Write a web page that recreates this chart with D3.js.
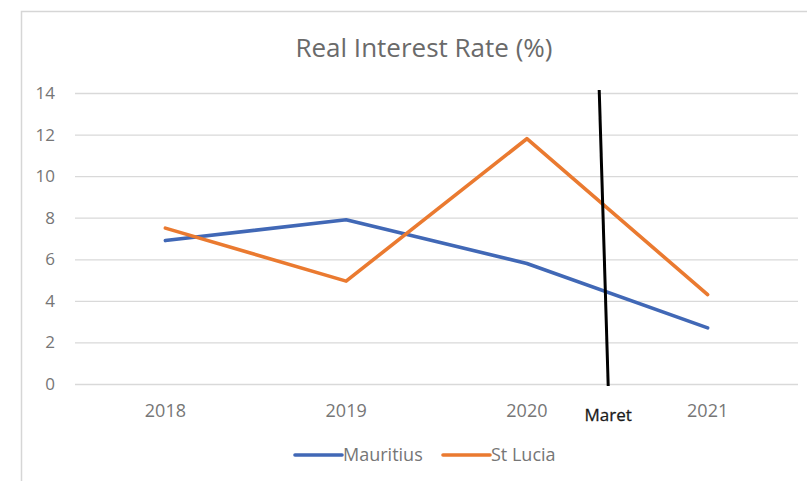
<!DOCTYPE html>
<html>
<head>
<meta charset="utf-8">
<script src="https://cdn.jsdelivr.net/npm/d3@7"></script>
<style>
  html, body { margin: 0; padding: 0; background: #fff; }
  svg { display: block; }
  text { font-family: "Open Sans", "Liberation Sans", sans-serif; }
</style>
</head>
<body>
<svg id="chart" width="807" height="481"></svg>
<script>
// Years on the category axis
const years = ["2018", "2019", "2020", "2021"];
// Real interest rate (%) per country
const mauritius = [6.9, 7.9, 5.8, 2.7];
const stLucia = [7.5, 4.95, 11.8, 4.3];
// Value axis ticks
const yTicks = [0, 2, 4, 6, 8, 10, 12, 14];
// Marker between 2020 and 2021 (fraction of the step past 2020)
const markerLabel = "Maret";
const markerAfter = "2020";
const markerOffset = 0.45;

const series = [
  { name: "Mauritius", values: mauritius, color: "#4168b6" },
  { name: "St Lucia", values: stLucia, color: "#ea7a30" }
];

const svg = d3.select("#chart");
const W = 807, H = 481;
const plot = { left: 75, right: 798, top: 93, bottom: 384 };
const textGray = "#767676";

// Chart frame
svg.append("path")
  .attr("d", `M21.5,${H} V11.5 H${W}`)
  .attr("fill", "none")
  .attr("stroke", "#d6d6d6")
  .attr("stroke-width", 1.5);

// Title
svg.append("text")
  .attr("x", 424)
  .attr("y", 57)
  .attr("text-anchor", "middle")
  .attr("font-size", 26)
  .attr("fill", "#6a6a6a")
  .text("Real Interest Rate (%)");

const x = d3.scaleBand().domain(years).range([plot.left, plot.right]);
const y = d3.scaleLinear().domain([0, 14]).range([plot.bottom, plot.top]);
const cx = d => x(d) + x.bandwidth() / 2;

// Horizontal gridlines + value labels
const yAxis = d3.axisLeft(y)
  .tickValues(yTicks)
  .tickSize(-(plot.right - plot.left))
  .tickPadding(20);
const gy = svg.append("g")
  .attr("transform", `translate(${plot.left},0)`)
  .call(yAxis);
gy.select(".domain").remove();
gy.selectAll(".tick line").attr("stroke", "#d9d9d9").attr("stroke-width", 1.3);
gy.selectAll(".tick text")
  .attr("font-size", 17)
  .attr("fill", textGray)
  .attr("font-family", "Open Sans, sans-serif");

// Category labels
const xAxis = d3.axisBottom(x).tickSize(0).tickPadding(20);
const gx = svg.append("g")
  .attr("transform", `translate(0,${plot.bottom})`)
  .call(xAxis);
gx.select(".domain").remove();
gx.selectAll(".tick text")
  .attr("font-size", 18)
  .attr("fill", textGray)
  .attr("font-family", "Open Sans, sans-serif");

// Series lines
const line = d3.line()
  .x((d, i) => cx(years[i]))
  .y(d => y(d));
series.forEach(s => {
  svg.append("path")
    .datum(s.values)
    .attr("d", line)
    .attr("fill", "none")
    .attr("stroke", s.color)
    .attr("stroke-width", 3.6)
    .attr("stroke-linejoin", "round")
    .attr("stroke-linecap", "round");
});

// Hand-placed marker line, slightly tilted, with its label
const mx = cx(markerAfter) + markerOffset * x.step();
svg.append("line")
  .attr("x1", mx - 9)
  .attr("y1", y(14) - 3)
  .attr("x2", mx)
  .attr("y2", y(0) + 2)
  .attr("stroke", "#000")
  .attr("stroke-width", 3);
svg.append("text")
  .attr("x", mx)
  .attr("y", 421)
  .attr("text-anchor", "middle")
  .attr("font-family", "Liberation Sans, Arial, sans-serif")
  .attr("font-size", 17)
  .attr("fill", "#1a1a1a")
  .attr("stroke", "#1a1a1a")
  .attr("stroke-width", 0.3)
  .text(markerLabel);

// Legend
const legend = svg.append("g").attr("transform", "translate(295,455)");
const legendX = [0, 148];
series.forEach((s, i) => {
  const g = legend.append("g").attr("transform", `translate(${legendX[i]},0)`);
  g.append("line")
    .attr("x1", 0).attr("x2", 47)
    .attr("y1", 0).attr("y2", 0)
    .attr("stroke", s.color)
    .attr("stroke-width", 3.6)
    .attr("stroke-linecap", "round");
  g.append("text")
    .attr("x", 48)
    .attr("y", 6)
    .attr("font-size", 18)
    .attr("fill", textGray)
    .text(s.name);
});
</script>
</body>
</html>
